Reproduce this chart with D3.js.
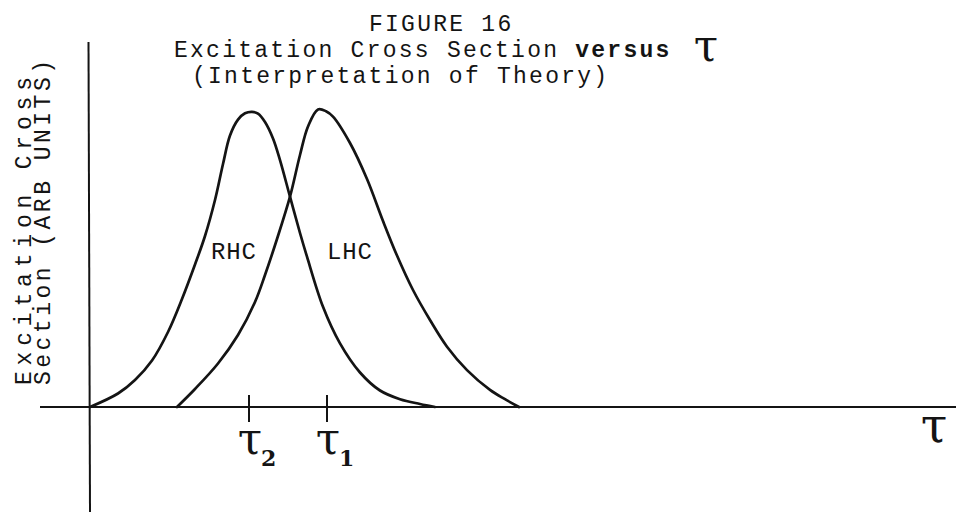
<!DOCTYPE html>
<html>
<head>
<meta charset="utf-8">
<script src="https://cdn.jsdelivr.net/npm/d3@7"></script>
<style>
  html, body { margin: 0; padding: 0; background: #fff; }
  svg { display: block; }
</style>
</head>
<body>
<div id="chart"></div>
<script>
// Excitation cross section (arbitrary units) against tau, for the two helicities.
const rhcTau   = [0, 0.28, 0.45, 0.62, 0.78, 0.92, 1.05, 1.15, 1.25, 1.33, 1.40, 1.48, 1.55, 1.62, 1.68, 1.75, 1.83, 1.90, 2.00, 2.10, 2.17, 2.33, 2.50, 2.70, 2.90, 3.10, 3.30, 3.45];
const rhcValue = [0, 4.5, 9, 15.5, 25, 36, 47.5, 57, 69, 81, 90.5, 95.8, 97.9, 98.4, 97.8, 95, 89.5, 82.3, 70.1, 58, 50.1, 33.4, 21.2, 11.5, 5.5, 2.6, 1.0, 0];

const lhcTau   = [0.87, 1.05, 1.28, 1.48, 1.65, 1.75, 1.87, 2.00, 2.10, 2.18, 2.28, 2.36, 2.43, 2.60, 2.77, 2.93, 3.07, 3.23, 3.40, 3.57, 3.77, 4.00, 4.15, 4.29];
const lhcValue = [0, 6, 14.5, 24, 35, 44, 56, 70.1, 84, 93.5, 99.2, 98.6, 96.8, 88, 76, 62, 50.5, 39, 29, 20.1, 12.3, 5.7, 2.6, 0];

const curveNames = ["RHC", "LHC"];

// Marked positions on the tau axis: tau_2 and tau_1
const tickTau  = [1.59, 2.37];
const tickSubs = ["2", "1"];

const titleLines  = ["FIGURE 16", "Excitation Cross Section", "(Interpretation of Theory)"];
const titleBold   = "versus";
const yLabelLines = ["Excitation Cross", "Section (ARB UNITS)"];

const W = 956, H = 512;
const svg = d3.select("#chart").append("svg")
  .attr("width", W).attr("height", H)
  .attr("viewBox", `0 0 ${W} ${H}`);

svg.append("rect").attr("width", W).attr("height", H).attr("fill", "#fff");

const x = d3.scaleLinear().domain([0, 8.66]).range([90, 956]);
const y = d3.scaleLinear().domain([0, 100]).range([407, 107]);

const ink = "#141414";
const mono = "'Liberation Mono', 'DejaVu Sans Mono', monospace";
const greek = "'DejaVu Serif', serif";
const pitch = 16.05;           // typewriter character pitch, px
const titleSize = 23;

// Axes: horizontal tau axis and vertical cross-section axis
svg.append("line")
  .attr("x1", x(-0.5)).attr("x2", x(8.66))
  .attr("y1", y(0)).attr("y2", y(0))
  .attr("stroke", ink).attr("stroke-width", 2);
svg.append("line")
  .attr("x1", x(-0.015)).attr("x2", x(0))
  .attr("y1", y(121.7)).attr("y2", y(-35))
  .attr("stroke", ink).attr("stroke-width", 2);

// Curves
const line = d3.line()
  .x(d => x(d[0]))
  .y(d => y(d[1]))
  .curve(d3.curveCatmullRom.alpha(0.5));

const series = [
  { name: curveNames[0], pts: d3.zip(rhcTau, rhcValue) },
  { name: curveNames[1], pts: d3.zip(lhcTau, lhcValue) }
];

svg.selectAll("path.curve").data(series).join("path")
  .attr("class", "curve")
  .attr("d", d => line(d.pts))
  .attr("fill", "none")
  .attr("stroke", ink)
  .attr("stroke-width", 2.7)
  .attr("stroke-linejoin", "round")
  .attr("stroke-linecap", "round");

// Curve labels
const labelPos = [{ t: 1.21, v: 49.3 }, { t: 2.37, v: 49.3 }];
svg.selectAll("text.clabel").data(series).join("text")
  .attr("class", "clabel")
  .attr("x", (d, i) => x(labelPos[i].t))
  .attr("y", (d, i) => y(labelPos[i].v))
  .attr("font-family", mono)
  .attr("font-size", 24)
  .attr("letter-spacing", 0.8)
  .attr("fill", ink)
  .text(d => d.name);

// tau_2 and tau_1 marks
const ticks = svg.selectAll("g.tick").data(d3.zip(tickTau, tickSubs)).join("g")
  .attr("class", "tick")
  .attr("transform", d => `translate(${x(d[0])},0)`);
ticks.append("line")
  .attr("x1", 0).attr("x2", 0)
  .attr("y1", y(0) - 12).attr("y2", y(0) + 15)
  .attr("stroke", ink).attr("stroke-width", 2);
ticks.append("text")
  .attr("x", 1).attr("y", 454)
  .attr("text-anchor", "middle")
  .attr("font-family", greek)
  .attr("font-size", 44)
  .attr("fill", ink)
  .text("τ");
ticks.append("text")
  .attr("x", 12).attr("y", 466)
  .attr("font-family", greek)
  .attr("font-weight", "bold")
  .attr("font-size", 22)
  .attr("fill", ink)
  .text(d => d[1]);

// Axis name at the right end of the tau axis
svg.append("text")
  .attr("x", 934).attr("y", 442)
  .attr("text-anchor", "middle")
  .attr("font-family", greek)
  .attr("font-size", 48)
  .attr("fill", ink)
  .text("τ");

// Title block
const titleX = [369, 174, 192];
const titleY = [31, 57, 83];
titleLines.forEach((s, i) => {
  svg.append("text")
    .attr("x", titleX[i]).attr("y", titleY[i])
    .attr("font-family", mono)
    .attr("font-size", titleSize)
    .attr("letter-spacing", pitch - titleSize * 0.6)
    .attr("fill", ink)
    .text(s);
});
svg.append("text")
  .attr("x", titleX[1] + (titleLines[1].length + 1) * pitch).attr("y", titleY[1])
  .attr("font-family", mono)
  .attr("font-size", titleSize)
  .attr("font-weight", "bold")
  .attr("letter-spacing", pitch - titleSize * 0.6)
  .attr("fill", ink)
  .text(titleBold);
svg.append("text")
  .attr("x", 706).attr("y", 61)
  .attr("text-anchor", "middle")
  .attr("font-family", greek)
  .attr("font-size", 44)
  .attr("fill", ink)
  .text("τ");

// Vertical axis title, two lines
const yLabX = [31, 50];
const yLabLen = [308, 325];
yLabelLines.forEach((s, i) => {
  svg.append("text")
    .attr("transform", `translate(${yLabX[i]},385) rotate(-90)`)
    .attr("font-family", mono)
    .attr("font-size", 23)
    .attr("textLength", yLabLen[i])
    .attr("lengthAdjust", "spacing")
    .attr("fill", ink)
    .text(s);
});
</script>
</body>
</html>
